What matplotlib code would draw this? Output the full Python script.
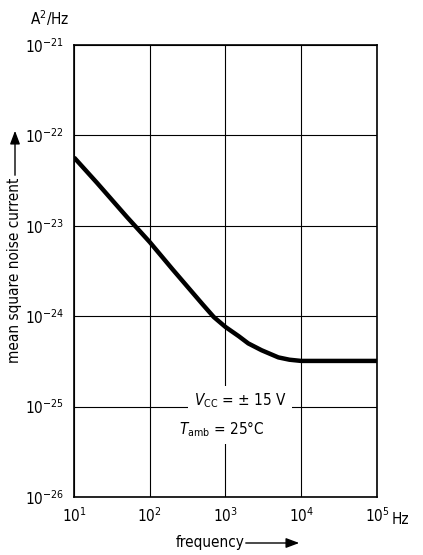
import matplotlib
matplotlib.use("Agg")
import matplotlib.pyplot as plt
import numpy as np

freq = [10, 20, 50, 100, 200, 500, 700, 1000, 1500, 2000, 3000, 5000, 7000, 10000, 100000]
noise = [5.7e-23, 3.0e-23, 1.25e-23, 6.6e-24, 3.3e-24, 1.35e-24, 9.8e-25, 7.6e-25, 6.0e-25, 5.0e-25, 4.2e-25, 3.5e-25, 3.3e-25, 3.2e-25, 3.2e-25]
xticks = [1e1, 1e2, 1e3, 1e4, 1e5]
xtick_labels = [r"$10^1$", r"$10^2$", r"$10^3$", r"$10^4$", r"$10^5$"]
yticks = [1e-26, 1e-25, 1e-24, 1e-23, 1e-22, 1e-21]
ytick_labels = [r"$10^{-26}$", r"$10^{-25}$", r"$10^{-24}$", r"$10^{-23}$", r"$10^{-22}$", r"$10^{-21}$"]

plt.rcParams['font.family'] = ['DejaVu Sans']
plt.rcParams['font.stretch'] = 'condensed'
plt.rcParams['mathtext.fontset'] = 'dejavusans'

fig = plt.figure(figsize=(4.23, 5.55), dpi=100)
ax = fig.add_axes([0.175, 0.1045, 0.716, 0.8145])
ax.set_xscale('log')
ax.set_yscale('log')
ax.set_xlim(1e1, 1e5)
ax.set_ylim(1e-26, 1e-21)
ax.set_xticks(xticks)
ax.set_xticklabels(xtick_labels, fontsize=11)
ax.set_yticks(yticks)
ax.set_yticklabels(ytick_labels, fontsize=11)
ax.minorticks_off()
ax.tick_params(length=0, pad=7)
ax.grid(True, color='black', linewidth=0.8)
for s in ax.spines.values():
    s.set_linewidth(1.2)

ax.plot(freq, noise, color='black', linewidth=3.2, solid_capstyle='butt', solid_joinstyle='round', zorder=3)

ax.text(1.55e3, 1.17e-25, r"$V_{\rm CC}$ = ± 15 V", fontsize=11, ha='center', va='center',
        bbox=dict(facecolor='white', edgecolor='none', pad=4), zorder=4)
ax.text(8.9e2, 5.7e-26, r"$T_{\rm amb}$ = 25°C", fontsize=11, ha='center', va='center',
        bbox=dict(facecolor='white', edgecolor='none', pad=4), zorder=4)

fig.text(50 / 423, 1 - 18 / 555, r"A$^2$/Hz", fontsize=11, ha='center', va='center')
fig.text(400 / 423, 1 - 520 / 555, "Hz", fontsize=11, ha='center', va='center')
fig.text(210 / 423, 1 - 542 / 555, "frequency", fontsize=11, ha='center', va='center')
fig.add_artist(matplotlib.patches.FancyArrowPatch((243 / 423, 1 - 543 / 555), (302 / 423, 1 - 543 / 555),
               transform=fig.transFigure, arrowstyle='-|>,head_length=8,head_width=3', color='black', lw=1))
fig.text(15 / 423, 1 - 270 / 555, "mean square noise current", fontsize=11, rotation=90, ha='center', va='center')
fig.add_artist(matplotlib.patches.FancyArrowPatch((15 / 423, 1 - 178 / 555), (15 / 423, 1 - 128 / 555),
               transform=fig.transFigure, arrowstyle='-|>,head_length=8,head_width=3', color='black', lw=1))

fig.savefig("out.png", dpi=100)
